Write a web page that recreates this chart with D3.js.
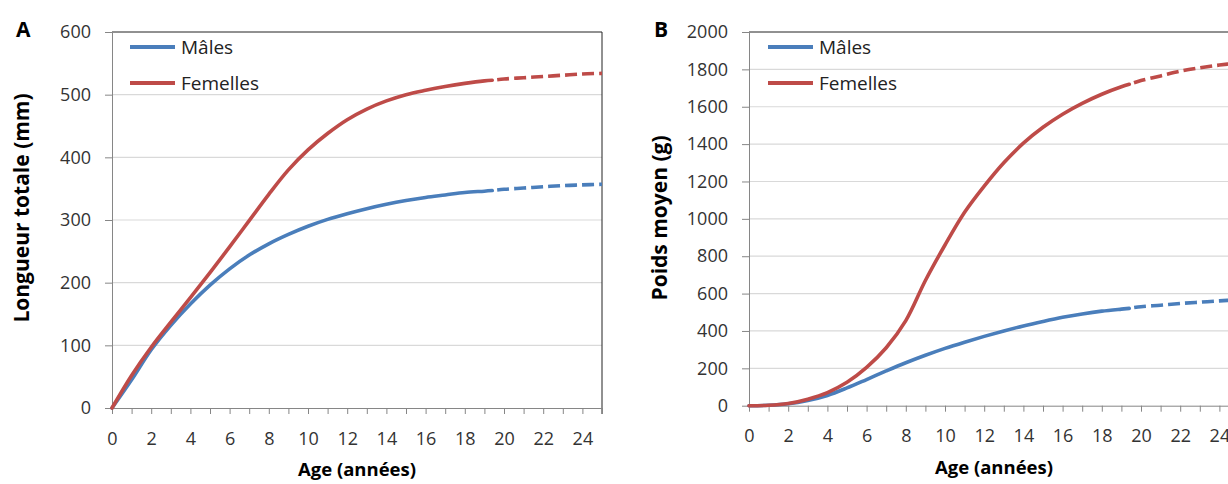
<!DOCTYPE html>
<html>
<head>
<meta charset="utf-8">
<script src="https://cdn.jsdelivr.net/npm/d3@7"></script>
<style>
  body { margin: 0; background: #fff; }
  svg { display: block; }
  text { font-family: "Open Sans", "Noto Sans", sans-serif; }
</style>
</head>
<body>
<svg id="chart" width="1228" height="484"></svg>
<script>
// ---------- DATA ----------
const seriesNames = ["Mâles", "Femelles"];
const agesSolid = [0,1,2,3,4,5,6,7,8,9,10,11,12,13,14,15,16,17,18,19,19.4];
const agesDashed = [19.4,20,21,22,23,24,25];

// Panel A: Longueur totale (mm)
const lenMalesSolid = [0,45,93,132,166,196,222,244,262,277,290,301,310,318,325,331,336,340,344,346,347];
const lenMalesDashed = [347,349,351,353,355,356,357];
const lenFemalesSolid = [0,52,97,137,176,216,257,299,341,380,412,438,460,477,490,500,507,513,518,522,523];
const lenFemalesDashed = [523,525,527,529,531,533,534];

// Panel B: Poids moyen (g)
const wMalesSolid = [0,2,10,28,55,95,140,186,230,270,307,340,371,400,427,451,473,491,506,517,521];
const wMalesDashed = [521,530,538,547,554,561,567];
const wFemalesSolid = [0,2,12,35,70,125,205,310,455,670,860,1035,1175,1300,1405,1490,1560,1618,1667,1707,1720];
const wFemalesDashed = [1720,1740,1765,1790,1808,1823,1835];

const xTicks = [0,1,2,3,4,5,6,7,8,9,10,11,12,13,14,15,16,17,18,19,20,21,22,23,24,25];
const xTickLabels = ["0","","2","","4","","6","","8","","10","","12","","14","","16","","18","","20","","22","","24",""];
const yTicksA = [0,100,200,300,400,500,600];
const yTicksB = [0,200,400,600,800,1000,1200,1400,1600,1800,2000];

const panelLetters = ["A", "B"];
const yTitles = ["Longueur totale (mm)", "Poids moyen (g)"];
const xTitle = "Age (années)";

// ---------- STYLE ----------
const colors = ["#4a7ebb", "#be4b48"];
const svg = d3.select("#chart");

function zip(xs, ys) { return xs.map((x, i) => ({x, y: ys[i]})); }

function drawPanel(cfg) {
  const x = d3.scaleLinear().domain([0, 25]).range([cfg.left, cfg.right]);
  const y = d3.scaleLinear().domain([0, cfg.yMax]).range([cfg.bottom, cfg.top]);
  const g = svg.append("g");

  // gridlines
  g.append("g").selectAll("line").data(cfg.yTicks.filter(v => v > 0 && v < cfg.yMax))
    .join("line")
    .attr("x1", cfg.left).attr("x2", cfg.right)
    .attr("y1", d => y(d)).attr("y2", d => y(d))
    .attr("stroke", "#d9d9d9").attr("stroke-width", 1.2);

  // top & right border
  g.append("line").attr("x1", cfg.left).attr("x2", cfg.right)
    .attr("y1", y(cfg.yMax)).attr("y2", y(cfg.yMax))
    .attr("stroke", "#222").attr("stroke-width", 1);
  g.append("line").attr("x1", cfg.right).attr("x2", cfg.right)
    .attr("y1", y(cfg.yMax)).attr("y2", cfg.bottom + 6)
    .attr("stroke", "#222").attr("stroke-width", 1);

  // Y axis
  const yAxis = g.append("g").attr("transform", `translate(${cfg.left},0)`)
    .call(d3.axisLeft(y).tickValues(cfg.yTicks).tickFormat(d3.format("d"))
      .tickSize(7).tickPadding(14).tickSizeOuter(0));
  yAxis.select(".domain").attr("stroke", "#868686");
  yAxis.selectAll(".tick line").attr("stroke", "#868686");
  yAxis.selectAll(".tick text").attr("font-size", 18).attr("fill", "#333")
    .attr("font-family", '"Open Sans", sans-serif');

  // X axis
  const xAxis = g.append("g").attr("transform", `translate(0,${cfg.bottom})`)
    .call(d3.axisBottom(x).tickValues(xTicks).tickSize(6).tickPadding(18)
      .tickFormat((d, i) => xTickLabels[i]).tickSizeOuter(0));
  xAxis.select(".domain").attr("stroke", "#868686");
  xAxis.selectAll(".tick line").attr("stroke", "#868686");
  xAxis.selectAll(".tick text").attr("font-size", 18).attr("fill", "#333")
    .attr("font-family", '"Open Sans", sans-serif');

  // lines
  const line = d3.line().x(d => x(d.x)).y(d => y(d.y)).curve(d3.curveCatmullRom.alpha(0.5));
  cfg.series.forEach((s, i) => {
    g.append("path").datum(zip(agesSolid, s.solid))
      .attr("d", line).attr("fill", "none")
      .attr("stroke", colors[i]).attr("stroke-width", 3.6).attr("stroke-linecap", "round");
    g.append("path").datum(zip(agesDashed, s.dashed))
      .attr("d", line).attr("fill", "none")
      .attr("stroke", colors[i]).attr("stroke-width", 3.6)
      .attr("stroke-dasharray", "12,5").attr("stroke-dashoffset", 12);
  });

  // legend
  seriesNames.forEach((name, i) => {
    const ly = cfg.legendY[i];
    g.append("line").attr("x1", cfg.legendX).attr("x2", cfg.legendX + 45)
      .attr("y1", ly).attr("y2", ly)
      .attr("stroke", colors[i]).attr("stroke-width", 4);
    g.append("text").attr("x", cfg.legendX + 51).attr("y", ly)
      .attr("dy", "0.35em").attr("font-size", 19).attr("fill", "#222").text(name);
  });

  // panel letter
  g.append("text").attr("x", cfg.letterX).attr("y", 37)
    .attr("font-size", 21).attr("font-weight", "bold").attr("fill", "#000").text(cfg.letter);

  // y title
  g.append("text")
    .attr("transform", `translate(${cfg.yTitleX},${cfg.yTitleY}) rotate(-90)`)
    .attr("text-anchor", "middle").attr("font-size", 21).attr("font-weight", "bold")
    .attr("fill", "#000").text(cfg.yTitle);

  // x title
  g.append("text").attr("x", (cfg.left + cfg.right) / 2).attr("y", cfg.xTitleY)
    .attr("text-anchor", "middle").attr("font-size", 18.5).attr("font-weight", "bold")
    .attr("fill", "#000").text(xTitle);
}

drawPanel({
  left: 112, right: 602, top: 32, bottom: 408, yMax: 600, yTicks: yTicksA,
  series: [{solid: lenMalesSolid, dashed: lenMalesDashed}, {solid: lenFemalesSolid, dashed: lenFemalesDashed}],
  legendX: 130, legendY: [47, 83], letter: panelLetters[0], letterX: 16,
  yTitle: yTitles[0], yTitleX: 29, yTitleY: 208, xTitleY: 476
});

drawPanel({
  left: 749, right: 1239, top: 32, bottom: 405.7, yMax: 2000, yTicks: yTicksB,
  series: [{solid: wMalesSolid, dashed: wMalesDashed}, {solid: wFemalesSolid, dashed: wFemalesDashed}],
  legendX: 768, legendY: [47, 83], letter: panelLetters[1], letterX: 654,
  yTitle: yTitles[1], yTitleX: 667, yTitleY: 218, xTitleY: 474
});
</script>
</body>
</html>
